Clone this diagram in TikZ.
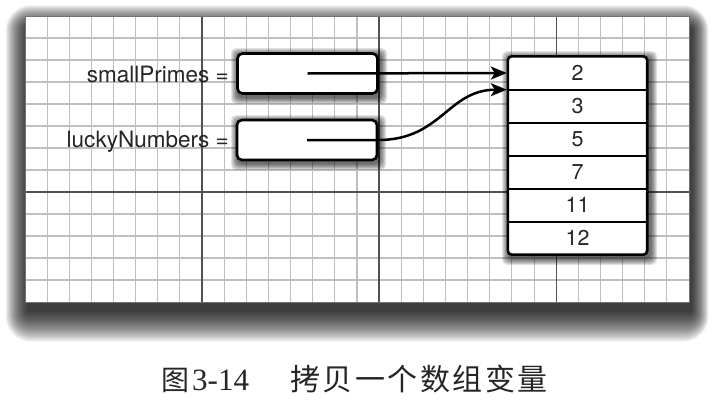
\documentclass[tikz,border=0pt]{standalone}
\usepackage{fontspec}
\usetikzlibrary{arrows.meta}
\newfontfamily\lblfont{TeX Gyre Heros}
\newfontfamily\cjkfont{Noto Sans CJK SC}
\newfontfamily\capfont{Liberation Serif}
\pgfdeclarelayer{bg}
\pgfdeclarelayer{mid}
\pgfsetlayers{bg,mid,main}
\begin{document}
\begin{tikzpicture}[x=1pt,y=-1pt,
  shadowstep/.style={fill=black, opacity=#1},
  minorline/.style={draw=black!25, line width=1.1pt},
  majorline/.style={draw=black!68, line width=1.3pt},
  varbox/.style={draw=black, line width=2.6pt, rounded corners=5pt, fill=white,
    minimum width=140pt, minimum height=40pt, inner sep=0pt},
  arrframe/.style={draw=black, line width=2.6pt, rounded corners=4pt, fill=white},
  cell/.style={minimum width=139pt, minimum height=33pt, inner sep=0pt, text=black!85,
    font=\lblfont\fontsize{21.5}{24}\selectfont},
  divider/.style={draw=black, line width=2.2pt},
  lbl/.style={anchor=base east, inner sep=0pt, text=black!85, font=\lblfont\fontsize{22.5}{26}\selectfont},
  ptr/.style={line width=2.5pt, shorten >=1pt, -{Stealth[length=16pt,width=13pt,inset=4pt]}},
  captext/.style={anchor=base west, inner sep=0pt, text=black!85}
]
\useasboundingbox (0,0) rectangle (716,418);
\begin{pgfonlayer}{bg}
\fill[white] (0,0) rectangle (716,418);
% soft shadow of the sheet
\foreach \i in {1,...,32}{\fill[shadowstep=0.04, rounded corners={\i*0.8pt}] ({25+3-0.7*\i},{16+13-0.75*\i}) rectangle ({689+2+0.55*\i},{302+8+\i});}
\fill[white] (25,16) rectangle (689,302);
\foreach \k in {1,...,29}{\draw[minorline] ({25+22.133*\k},16) -- ({25+22.133*\k},302);}
\foreach \k in {1,...,12}{\draw[minorline] (25,{16+22*\k}) -- (689,{16+22*\k});}
\foreach \k in {8,16,24}{\draw[majorline] ({25+22.133*\k},16) -- ({25+22.133*\k},302);}
\draw[majorline] (25,192) -- (689,192);
\draw[draw=black!55, line width=0.8pt] (25,16) rectangle (689,302);
% soft shadows of the boxes
\foreach \i in {1,...,7}{
  \fill[shadowstep=0.11, rounded corners=5pt] ({237+1-\i},{53+2-\i}) rectangle ({378+2+\i},{94+3+\i});
  \fill[shadowstep=0.11, rounded corners=5pt] ({237+1-\i},{120+2-\i}) rectangle ({377+2+\i},{160+3+\i});
  \fill[shadowstep=0.11, rounded corners=5pt] ({508+1-\i},{56+2-\i}) rectangle ({647+3+\i},{255+3+\i});
}
\end{pgfonlayer}

% variable boxes and labels
\node[varbox] (b1) at (307.5,73.5) {};
\node[varbox] (b2) at (307,140) {};
\node[lbl] (l1) at (229,82) {smallPrimes =};
\node[lbl] (l2) at (229,147) {luckyNumbers =};

% array cells
\node[cell] (r1) at (577.5,73) {2};
\node[cell] (r2) at (577.5,106) {3};
\node[cell] (r3) at (577.5,139) {5};
\node[cell] (r4) at (577.5,172) {7};
\node[cell] (r5) at (577.5,205) {11};
\node[cell] (r6) at (577.5,238) {12};
\begin{pgfonlayer}{mid}
\path[arrframe] (r1.north west) rectangle (r6.south east);
\end{pgfonlayer}
\foreach \a in {r1,r2,r3,r4,r5}{\draw[divider] (\a.south west) -- (\a.south east);}

% pointers
\draw[ptr] (b1.center) -- (r1.west);
\draw[ptr] (b2.center) -- (b2.east) .. controls +(63,0) and +(-60,0) .. (r1.south west);

% caption
\node[captext] (cap) at (161,390) {{\cjkfont\fontsize{28}{30}\selectfont 图}\hspace{3pt}{\capfont\fontsize{31}{34}\selectfont 3-14}\hspace{41pt}{\cjkfont\fontsize{30}{32}\selectfont 拷\kern2.5pt 贝\kern2.5pt 一\kern2.5pt 个\kern2.5pt 数\kern2.5pt 组\kern2.5pt 变\kern2.5pt 量}};
\end{tikzpicture}
\end{document}
